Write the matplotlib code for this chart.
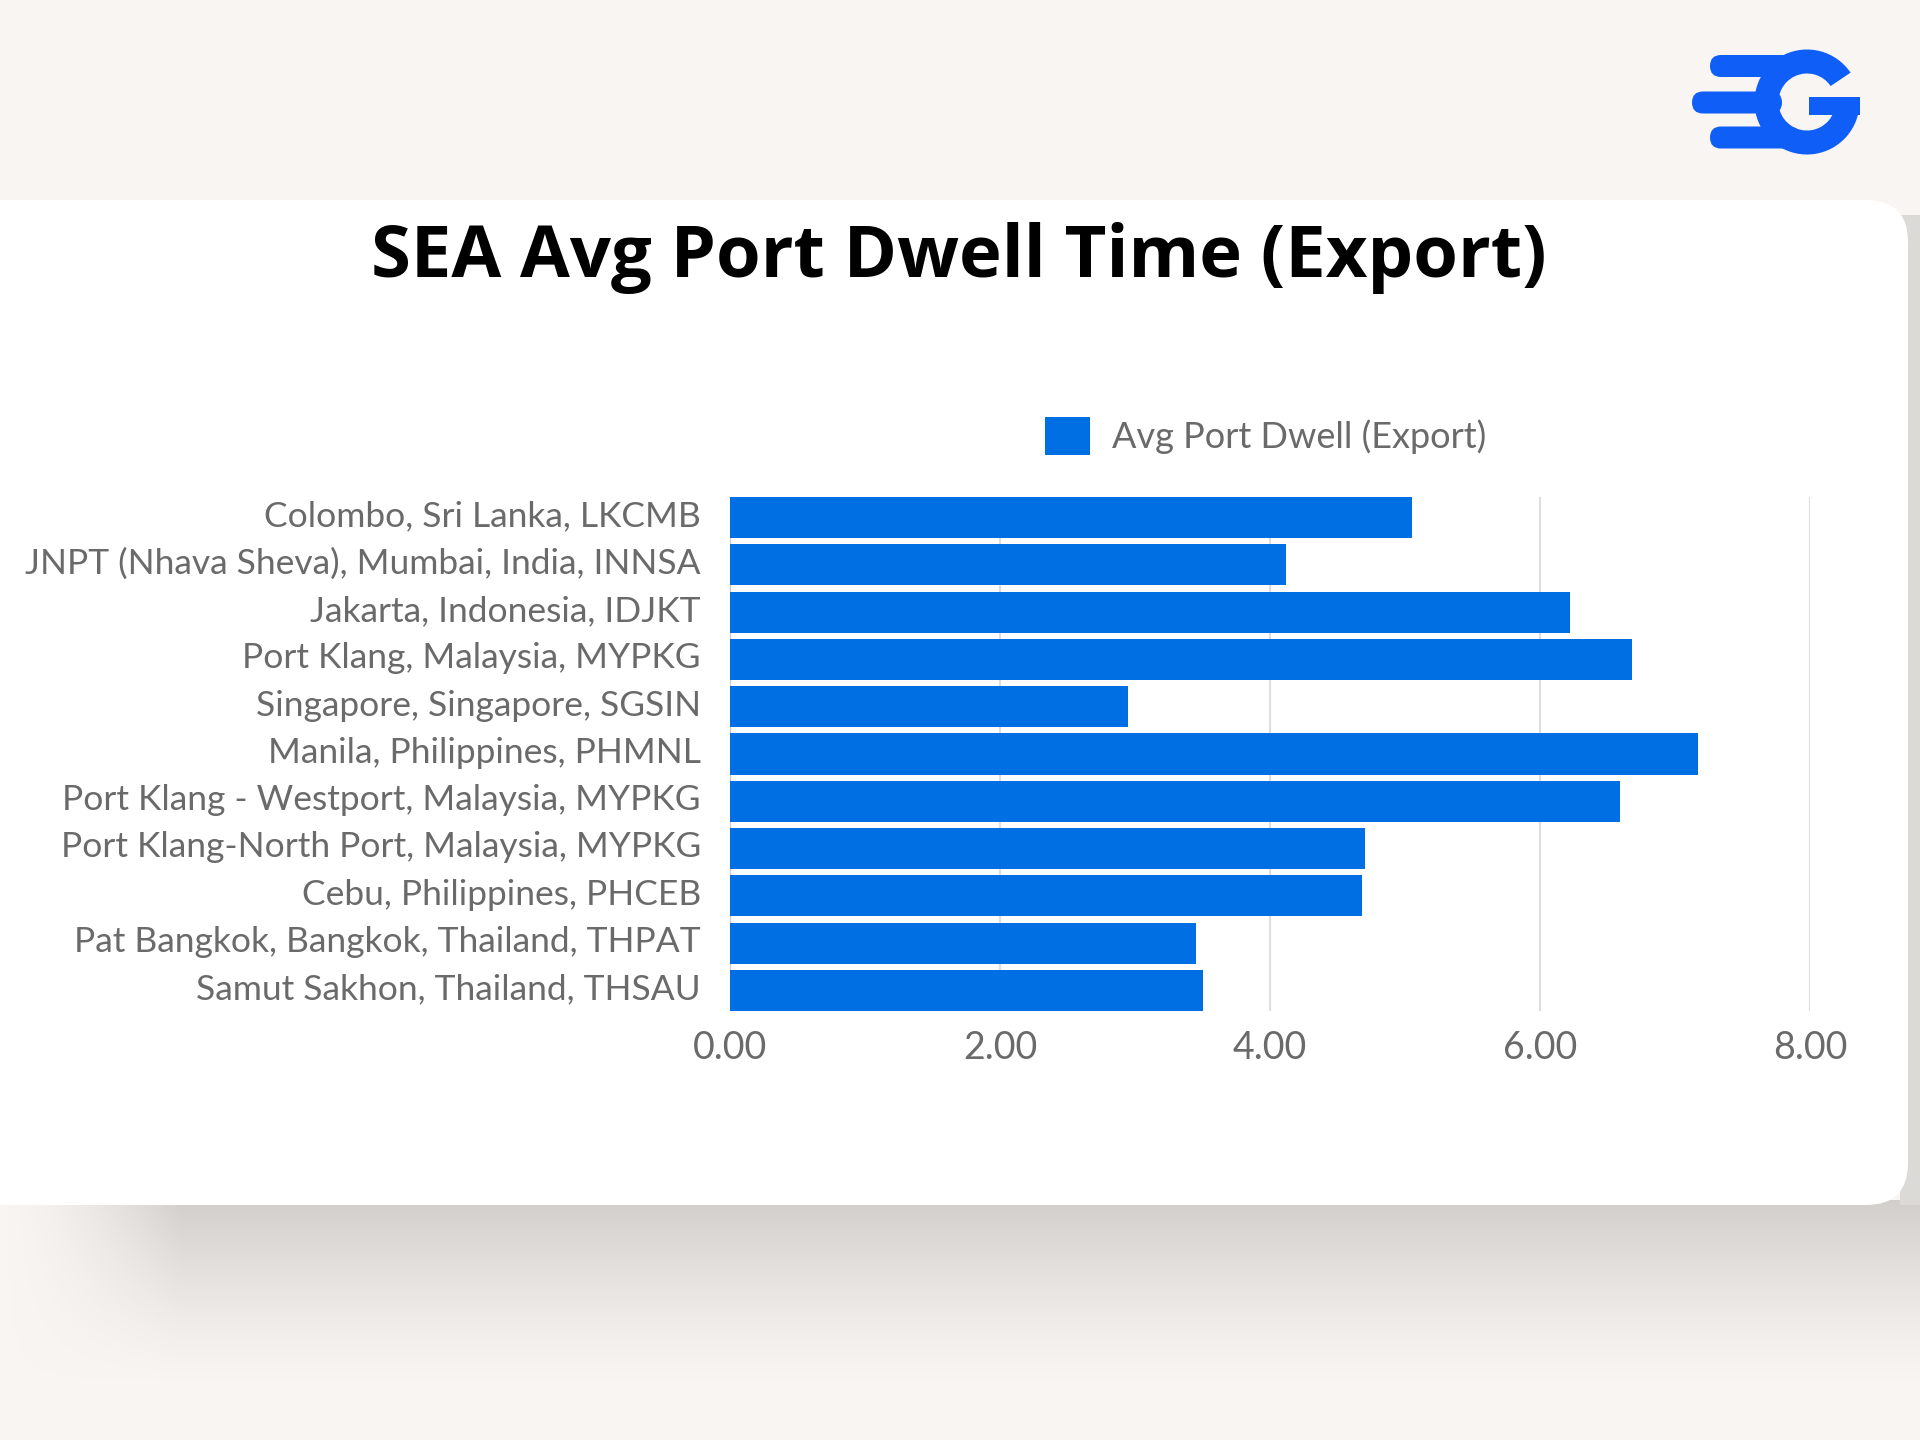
import numpy as np
import matplotlib.pyplot as plt
import matplotlib.transforms as mtransforms
from matplotlib.patches import FancyBboxPatch, Wedge, Rectangle

plt.rcParams['font.family'] = ['Lato', 'DejaVu Sans']

ports = ["Colombo, Sri Lanka, LKCMB",
         "JNPT (Nhava Sheva), Mumbai, India, INNSA",
         "Jakarta, Indonesia, IDJKT",
         "Port Klang, Malaysia, MYPKG",
         "Singapore, Singapore, SGSIN",
         "Manila, Philippines, PHMNL",
         "Port Klang - Westport, Malaysia, MYPKG",
         "Port Klang-North Port, Malaysia, MYPKG",
         "Cebu, Philippines, PHCEB",
         "Pat Bangkok, Bangkok, Thailand, THPAT",
         "Samut Sakhon, Thailand, THSAU"]
dwell = [5.05, 4.12, 6.22, 6.68, 2.95, 7.17, 6.59, 4.70, 4.68, 3.45, 3.50]
xticks = [0, 2, 4, 6, 8]

bg = '#f8f5f2'
bar_col = '#006fe3'
logo_col = '#0f5ef7'
txt_col = '#6a6a6a'

fig = plt.figure(figsize=(19.2, 14.4), dpi=100)
fig.patch.set_facecolor(bg)

# background layer in pixel coords (y down)
bgax = fig.add_axes([0, 0, 1, 1], zorder=0)
bgax.set_xlim(0, 1920)
bgax.set_ylim(1440, 0)
bgax.axis('off')

# shadow under the card
h = 180
v = np.linspace(1, 0, h) ** 1.3
hx = np.clip(np.linspace(0, 1920, 400) / 180, 0, 1) ** 1.5
alpha = np.outer(v, hx)
shade = np.zeros((h, 400, 4))
shade[..., :3] = np.array([0.82, 0.81, 0.80])
shade[..., 3] = alpha
bgax.imshow(shade, extent=(0, 1920, 1205 + h, 1200), aspect='auto', zorder=1)
bgax.add_patch(Rectangle((1900, 215), 20, 990, color='#dcdad7', zorder=1, lw=0))

card = FancyBboxPatch((-60, 200), 1968, 1005, boxstyle='round,pad=0,rounding_size=42',
                      fc='white', ec='none', zorder=2)
bgax.add_patch(card)

# logo
for x0, x1, yc in [(1710, 1800, 66), (1692, 1782, 102.5), (1710, 1800, 137.5)]:
    bgax.add_patch(FancyBboxPatch((x0, yc - 11), x1 - x0, 22,
                                  boxstyle='round,pad=0,rounding_size=11',
                                  fc=logo_col, ec='none', zorder=3))
bgax.add_patch(Wedge((1807, 102), 52.5, 0, 326, width=24, fc=logo_col, ec='none', zorder=3))
bgax.add_patch(Rectangle((1809, 97), 51, 18, fc=logo_col, ec='none', zorder=3))

# chart
ax = fig.add_axes([730 / 1920, 1 - 1011 / 1440, 1080 / 1920, 514 / 1440], zorder=3)
ax.set_facecolor('none')
y = np.arange(len(ports))
ax.barh(y, dwell, height=0.87, color=bar_col, label='Avg Port Dwell (Export)', zorder=3)
ax.set_ylim(len(ports) - 0.565, -0.435)
ax.set_xlim(0, 8)
ax.set_xticks(xticks)
ax.set_xticklabels(['%.2f' % t for t in xticks])
ax.set_yticks(y)
ax.set_yticklabels(ports)
ax.tick_params(axis='both', length=0, labelsize=25.5, colors=txt_col)
ax.tick_params(axis='y', pad=21)
ax.tick_params(axis='x', pad=14, labelsize=27)
ax.grid(axis='x', color='#dedede', lw=1.5, zorder=0)
for s in ax.spines.values():
    s.set_visible(False)
ax.axvline(0, color='#c8c8c8', lw=1.5, zorder=2)

shift = mtransforms.ScaledTranslation(0, 3 / 72, fig.dpi_scale_trans)
for lab in ax.get_yticklabels():
    lab.set_transform(lab.get_transform() + shift)

leg = ax.legend(loc='center left', bbox_to_anchor=(1045 / 1920, 1 - 436 / 1440),
                bbox_transform=fig.transFigure, frameon=False, fontsize=26,
                handlelength=1.25, handleheight=1.25, handletextpad=0.6,
                borderpad=0, borderaxespad=0)
for t in leg.get_texts():
    t.set_color(txt_col)

fig.text(959 / 1920, 1 - 258 / 1440, 'SEA Avg Port Dwell Time (Export)',
         ha='center', va='center', fontsize=52, fontweight='bold',
         family=['Open Sans', 'DejaVu Sans'], color='black', zorder=4)

fig.savefig('out.png', dpi=100, facecolor=bg)
